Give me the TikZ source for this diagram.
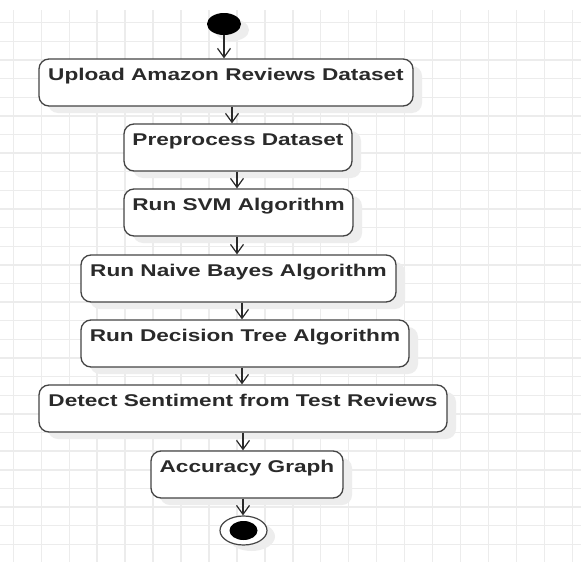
\documentclass[tikz,border=0pt]{standalone}
\usepackage{fontspec}
\setmainfont{Liberation Sans}
\usetikzlibrary{arrows.meta,shapes.geometric,shadows}
\definecolor{gridc}{HTML}{ECECEC}
\definecolor{edgec}{HTML}{444444}
\definecolor{inkc}{HTML}{2A2A2A}
\definecolor{shadc}{HTML}{EDEDED}
\newcommand{\actlabel}[1]{\fontsize{17}{20}\selectfont\bfseries\scalebox{1.33}[1]{#1}}
\tikzset{
  gridline/.style={draw=gridc, line width=1.4pt},
  actbox/.style={draw=edgec, line width=1.3pt, rounded corners=10pt, fill=white,
    minimum height=47pt, inner xsep=0pt, inner ysep=0pt,
    text height=21pt, text depth=26pt, text=inkc,
    drop shadow={shadow xshift=9pt, shadow yshift=-7pt, fill=shadc, opacity=1}},
  flow/.style={draw=inkc, line width=1.2pt, -{Straight Barb[length=9pt,width=13pt]}},
  startdot/.style={ellipse, fill=black, minimum width=34pt, minimum height=22pt, inner sep=0pt,
    drop shadow={shadow xshift=8pt, shadow yshift=-6pt, fill=shadc, opacity=1}},
  endring/.style={ellipse, draw=edgec, line width=1.2pt, fill=white, minimum width=47pt, minimum height=29pt, inner sep=0pt,
    drop shadow={shadow xshift=8pt, shadow yshift=-6pt, fill=shadc, opacity=1}},
  enddot/.style={ellipse, fill=black, minimum width=28pt, minimum height=19pt, inner sep=0pt}
}
\begin{document}
\begin{tikzpicture}[x=1pt,y=-1pt]
\useasboundingbox (0,0) rectangle (581,562);
\fill[white] (0,0) rectangle (581,562);
% grid
\foreach \k in {0,...,20} {\draw[gridline] ({13.3+27.95*\k},10) -- ({13.3+27.95*\k},562);}
\foreach \k in {0,...,28} {\draw[gridline] (0,{22.7+18.63*\k}) -- (581,{22.7+18.63*\k});}
% nodes
\node[startdot] (start) at (224,24) {};
\node[actbox, minimum width=374pt] (b1) at (226,82.5) {\actlabel{Upload Amazon Reviews Dataset}};
\node[actbox, minimum width=228pt] (b2) at (238,147.5) {\actlabel{Preprocess Dataset}};
\node[actbox, minimum width=229pt] (b3) at (238.5,212.5) {\actlabel{Run SVM Algorithm}};
\node[actbox, minimum width=315pt] (b4) at (238.5,278.5) {\actlabel{Run Naive Bayes Algorithm}};
\node[actbox, minimum width=328pt] (b5) at (245,343.5) {\actlabel{Run Decision Tree Algorithm}};
\node[actbox, minimum width=408pt] (b6) at (243,408.5) {\actlabel{Detect Sentiment from Test Reviews}};
\node[actbox, minimum width=192pt] (b7) at (247,474.5) {\actlabel{Accuracy Graph}};
\node[endring] (endn) at (243.5,530.5) {};
\node[enddot] (enddotn) at (endn.center) {};
% connectors
\draw[flow] (start.south) -- (start.south |- b1.north);
\draw[flow] (232,0 |- b1.south) -- (232,0 |- b2.north);
\draw[flow] (237,0 |- b2.south) -- (237,0 |- b3.north);
\draw[flow] (237,0 |- b3.south) -- (237,0 |- b4.north);
\draw[flow] (242,0 |- b4.south) -- (242,0 |- b5.north);
\draw[flow] (242,0 |- b5.south) -- (242,0 |- b6.north);
\draw[flow] (243,0 |- b6.south) -- (243,0 |- b7.north);
\draw[flow] (243,0 |- b7.south) -- (243,0 |- endn.north);
\end{tikzpicture}
\end{document}
